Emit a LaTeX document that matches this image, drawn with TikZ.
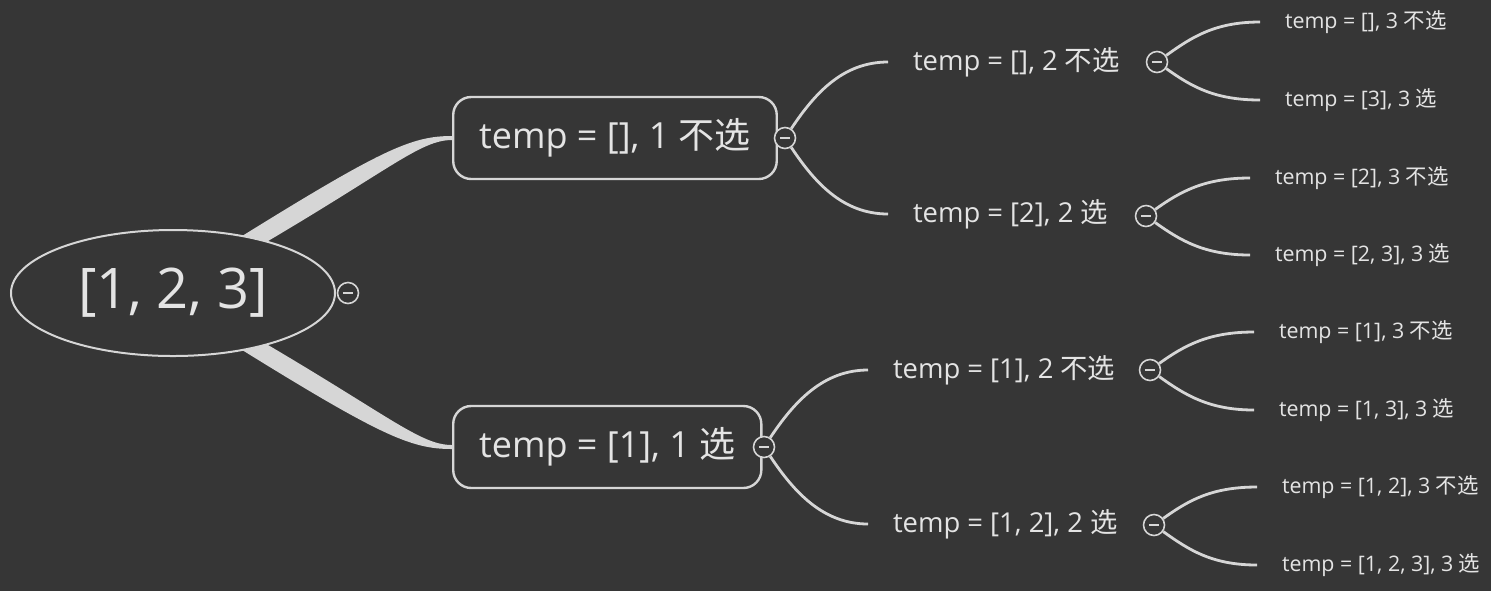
\documentclass[tikz,border=0pt]{standalone}
\usepackage{fontspec}
\setmainfont{Open Sans}
\newfontfamily\cjk{Noto Sans CJK SC}
\usetikzlibrary{calc,shapes.geometric}

\definecolor{board}{HTML}{363636}
\definecolor{chalk}{HTML}{D6D6D6}
\definecolor{ink}{HTML}{E4E4E4}

\tikzset{
  rootnode/.style={ellipse, draw=chalk, line width=1pt, fill=board, text=ink,
    minimum width=162pt, minimum height=63pt, font=\fontsize{28}{30}\selectfont},
  topic/.style={draw=chalk, line width=1.2pt, rounded corners=9pt, fill=board, text=ink,
    minimum height=41pt, inner xsep=13pt, anchor=west, font=\fontsize{18}{20}\selectfont},
  subtopic/.style={text=ink, inner xsep=12.5pt, inner ysep=2pt, outer sep=0pt, anchor=west,
    font=\fontsize{13.7}{16}\selectfont},
  leaf/.style={text=ink, inner xsep=12.5pt, inner ysep=2pt, outer sep=0pt, anchor=west,
    font=\fontsize{10.7}{13}\selectfont},
  fold/.style={circle, draw=chalk, line width=0.8pt, fill=board, minimum size=10.5pt, inner sep=0pt,
    path picture={\draw[chalk, line width=0.8pt]
      ($(path picture bounding box.west)!0.25!(path picture bounding box.east)$) --
      ($(path picture bounding box.west)!0.75!(path picture bounding box.east)$);}},
  branch/.style={draw=chalk, line width=1.4pt},
}

\begin{document}
\begin{tikzpicture}[x=0.5pt, y=-0.5pt]
  \fill[board] (0,0) rectangle (1491,591);
  \useasboundingbox (0,0) rectangle (1491,591);

  % first level
  \node[topic] (n1) at (452,138) {temp = [], 1 {\cjk 不选}};
  \node[topic] (n2) at (452,447) {temp = [1], 1 {\cjk 选}};

  % tapered main branches
  \foreach \n/\s in {n1/-1, n2/1}
    \fill[chalk] ($(173,293)+(45,42*\s)$) .. controls ($(173,293)+(207,143*\s)$) and ($(\n.west)+(-42,2*\s)$) .. ($(\n.west)+(0,2*\s)$)
      -- ($(\n.west)+(0,-2*\s)$) .. controls ($(\n.west)+(-32,-2*\s)$) and ($(173,293)+(217,123*\s)$) .. ($(173,293)+(78,42*\s)$) -- cycle;

  \node[rootnode] (root) at (173,293) {[1, 2, 3]};
  \node[fold] (f0) at (348,293) {};
  \node[fold] (f1) at (785,138) {};
  \node[fold] (f2) at (764,447) {};

  % second level
  \node[subtopic] (n11) at (888,62)  {temp = [], 2 {\cjk 不选}};
  \node[subtopic] (n12) at (888,214) {temp = [2], 2 {\cjk 选}};
  \node[subtopic] (n21) at (868,370) {temp = [1], 2 {\cjk 不选}};
  \node[subtopic] (n22) at (868,524) {temp = [1, 2], 2 {\cjk 选}};
  \node[fold] (f11) at (1157,62)  {};
  \node[fold] (f12) at (1146,216) {};
  \node[fold] (f21) at (1150,370) {};
  \node[fold] (f22) at (1154,525) {};

  \draw[branch] (f1) .. controls +(30,-45) and +(-45,0) .. (n11.west);
  \draw[branch] (f1) .. controls +(30,45)  and +(-45,0) .. (n12.west);
  \draw[branch] (f2) .. controls +(30,-45) and +(-45,0) .. (n21.west);
  \draw[branch] (f2) .. controls +(30,45)  and +(-45,0) .. (n22.west);

  % third level
  \node[leaf] (n111) at (1260,22)  {temp = [], 3 {\cjk 不选}};
  \node[leaf] (n112) at (1260,100) {temp = [3], 3 {\cjk 选}};
  \node[leaf] (n121) at (1250,178) {temp = [2], 3 {\cjk 不选}};
  \node[leaf] (n122) at (1250,255) {temp = [2, 3], 3 {\cjk 选}};
  \node[leaf] (n211) at (1254,332) {temp = [1], 3 {\cjk 不选}};
  \node[leaf] (n212) at (1254,410) {temp = [1, 3], 3 {\cjk 选}};
  \node[leaf] (n221) at (1257,487) {temp = [1, 2], 3 {\cjk 不选}};
  \node[leaf] (n222) at (1257,565) {temp = [1, 2, 3], 3 {\cjk 选}};

  \foreach \f/\a/\b in {f11/n111/n112, f12/n121/n122, f21/n211/n212, f22/n221/n222} {
    \draw[branch] (\f) .. controls +(35,-25) and +(-45,0) .. (\a.west);
    \draw[branch] (\f) .. controls +(35,25)  and +(-45,0) .. (\b.west);
  }
\end{tikzpicture}
\end{document}
